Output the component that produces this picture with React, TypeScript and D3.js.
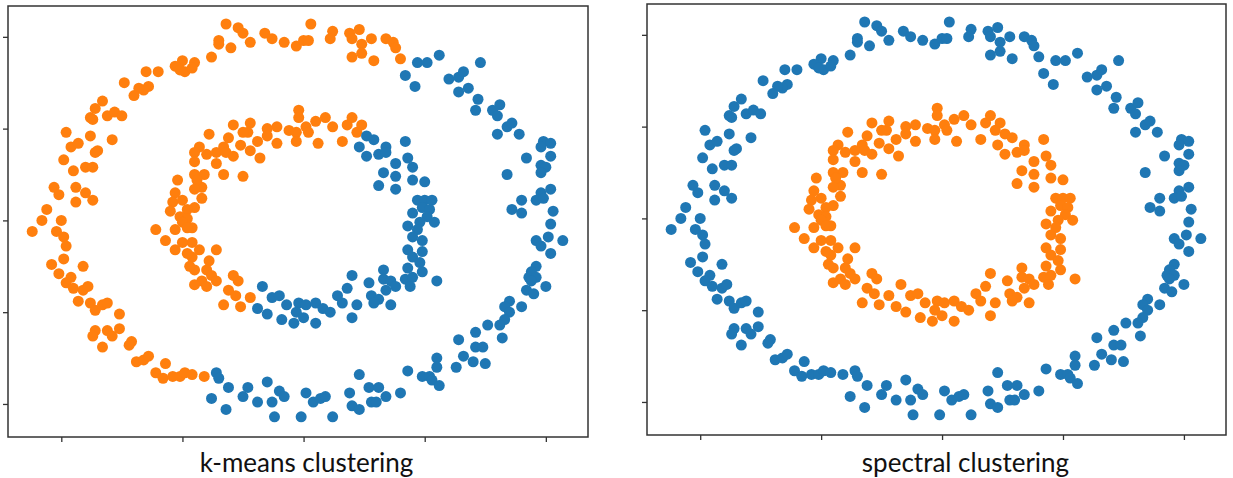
import { useEffect, useRef } from 'react';
import * as d3 from 'd3';

type Pt = [number, number];

// outer ring, points k-means put in the orange cluster
const outerRingA: Pt[] = [
  [-0.50, 0.87], [-0.53, 0.84], [-0.45, 0.86], [-0.49, 0.81], [-0.46, 0.83], [-0.51, 0.82], [-0.60, 0.81], [-0.65, 0.81],
  [-0.74, 0.75], [-0.64, 0.73], [-0.66, 0.71], [-0.68, 0.72], [-0.70, 0.68], [-0.83, 0.65], [-0.86, 0.61], [-0.88, 0.56],
  [-0.87, 0.55], [-0.81, 0.57], [-0.78, 0.59], [-0.75, 0.57], [-0.98, 0.48], [-0.88, 0.46], [-0.79, 0.44], [-0.96, 0.40],
  [-0.93, 0.42], [-0.85, 0.38], [-0.32, 1.07], [-0.27, 1.05], [-0.25, 1.02], [-0.22, 0.97], [-0.35, 0.98], [-0.35, 0.96],
  [-0.30, 0.94], [-0.38, 0.89], [-0.16, 1.02], [-0.13, 0.99], [-0.08, 0.97], [-0.03, 0.95], [0.00, 0.98], [0.02, 0.98],
  [0.03, 1.07], [0.12, 1.03], [0.11, 0.99], [0.19, 1.02], [0.23, 1.04], [0.20, 0.99], [0.28, 0.99], [0.24, 0.96],
  [0.20, 0.89], [0.24, 0.91], [0.29, 0.87], [0.34, 0.99], [0.37, 0.97], [0.38, 0.94], [0.40, 0.88],
  [-0.86, 0.37], [-0.99, 0.33], [-0.95, 0.27], [-0.90, 0.29], [-0.87, 0.29], [-1.03, 0.18], [-1.01, 0.14], [-0.94, 0.18],
  [-0.90, 0.15], [-0.87, 0.11], [-0.94, 0.10], [-1.06, 0.06], [-1.08, 0.00], [-1.00, 0.00], [-1.12, -0.06], [-1.02, -0.06],
  [-0.99, -0.09], [-0.98, -0.14], [-0.99, -0.21], [-1.04, -0.24], [-1.01, -0.29], [-0.91, -0.25], [-0.96, -0.31],
  [-0.98, -0.34], [-0.95, -0.37], [-0.91, -0.38], [-0.89, -0.36], [-0.93, -0.44], [-0.88, -0.45], [-0.86, -0.49],
  [-0.83, -0.46], [-0.81, -0.45], [-0.76, -0.51], [-0.76, -0.59], [-0.86, -0.60], [-0.81, -0.60], [-0.79, -0.63],
  [-0.87, -0.63], [-0.83, -0.69], [-0.71, -0.66], [-0.72, -0.68], [-0.69, -0.77], [-0.66, -0.76], [-0.64, -0.74],
  [-0.61, -0.83], [-0.57, -0.78], [-0.58, -0.86], [-0.54, -0.85], [-0.51, -0.85], [-0.49, -0.83], [-0.46, -0.84], [-0.41, -0.85],
];

// outer ring, k-means blue cluster
const outerRingB: Pt[] = [
  [0.47, 0.86], [0.51, 0.86], [0.56, 0.90], [0.73, 0.86], [0.42, 0.79], [0.46, 0.73], [0.60, 0.77], [0.64, 0.78],
  [0.66, 0.81], [0.64, 0.70], [0.68, 0.72], [0.72, 0.66], [0.71, 0.60], [0.78, 0.60], [0.81, 0.63], [0.80, 0.57],
  [0.80, 0.47], [0.84, 0.51], [0.86, 0.53], [0.89, 0.47], [0.99, 0.43], [1.02, 0.42], [0.98, 0.40], [0.84, 0.25],
  [0.92, 0.34], [1.02, 0.35], [0.98, 0.30], [1.00, 0.29], [0.98, 0.26], [1.02, 0.17], [0.98, 0.15], [0.96, 0.11],
  [0.99, 0.12], [0.90, 0.11], [0.86, 0.06], [0.90, 0.04], [1.03, 0.05], [1.02, -0.02], [1.01, -0.09], [0.96, -0.11],
  [0.98, -0.14], [1.07, -0.11], [1.02, -0.18], [0.96, -0.25], [0.94, -0.28], [0.93, -0.31], [0.96, -0.31], [1.00, -0.36],
  [0.94, -0.33], [0.92, -0.38], [0.95, -0.40], [0.85, -0.44], [0.83, -0.47], [0.90, -0.47], [0.85, -0.50], [0.83, -0.54],
  [0.81, -0.57], [0.76, -0.57], [0.82, -0.64], [0.71, -0.61], [0.64, -0.65], [0.71, -0.69], [0.74, -0.69], [0.66, -0.74],
  [0.70, -0.77], [0.75, -0.78], [0.63, -0.80], [0.55, -0.75], [0.55, -0.80], [0.43, -0.82], [0.49, -0.85], [0.52, -0.85],
  [0.53, -0.87], [0.56, -0.90], [0.40, -0.94],
  [-0.36, -0.83], [-0.35, -0.86], [-0.31, -0.91], [-0.38, -0.97], [-0.32, -1.03], [-0.25, -0.96], [-0.23, -0.91],
  [-0.19, -0.99], [-0.15, -0.88], [-0.13, -0.99], [-0.10, -0.93], [-0.08, -0.96], [-0.12, -1.07], [-0.01, -1.07],
  [0.01, -0.94], [0.04, -0.99], [0.07, -0.97], [0.09, -0.96], [0.12, -1.07], [0.19, -0.94], [0.20, -1.01], [0.23, -1.03],
  [0.23, -0.84], [0.27, -0.91], [0.31, -0.91], [0.28, -0.99], [0.30, -0.99], [0.34, -0.96],
];

// inner ring, k-means orange cluster
const innerRingA: Pt[] = [
  [-0.43, 0.40], [-0.02, 0.60], [-0.02, 0.56], [-0.29, 0.52], [-0.22, 0.53], [-0.23, 0.48], [-0.25, 0.48], [-0.15, 0.50],
  [-0.11, 0.51], [-0.06, 0.49], [-0.03, 0.48], [0.01, 0.51], [0.02, 0.48], [0.05, 0.54], [0.09, 0.56], [0.12, 0.51],
  [0.18, 0.52], [0.20, 0.56], [0.24, 0.52], [0.22, 0.48], [0.16, 0.43], [0.06, 0.42], [-0.11, 0.42], [-0.39, 0.47],
  [-0.31, 0.45], [-0.33, 0.40], [-0.26, 0.41], [-0.19, 0.43], [-0.15, 0.46], [-0.40, 0.36], [-0.36, 0.37], [-0.32, 0.37],
  [-0.36, 0.31], [-0.29, 0.35], [-0.22, 0.38], [-0.18, 0.34], [-0.03, 0.43], [-0.33, 0.25], [-0.25, 0.24], [-0.41, 0.25],
  [-0.42, 0.18], [-0.42, 0.12], [-0.43, -0.16], [-0.36, -0.16], [-0.39, -0.22], [-0.40, -0.27], [-0.38, -0.30],
  [-0.42, -0.33], [-0.36, -0.33], [-0.29, -0.30], [-0.27, -0.33], [-0.31, -0.38], [-0.40, -0.36], [-0.45, 0.37],
  [-0.45, 0.32], [-0.45, 0.25], [-0.44, 0.22], [-0.45, 0.17], [-0.45, 0.07], [-0.46, -0.04], [-0.46, -0.12],
  [-0.46, -0.20], [-0.45, -0.27], [-0.45, -0.35], [-0.52, 0.22], [-0.53, 0.15], [-0.54, 0.10], [-0.50, 0.11],
  [-0.48, 0.06], [-0.55, 0.05], [-0.51, 0.02], [-0.48, 0.01], [-0.50, -0.01], [-0.53, -0.05], [-0.48, -0.04],
  [-0.61, -0.05], [-0.57, -0.11], [-0.53, -0.16], [-0.50, -0.12], [-0.48, -0.18], [-0.47, -0.25], [-0.28, -0.41],
  [-0.22, -0.42], [-0.33, -0.46], [-0.26, -0.47],
];

// inner ring, k-means blue cluster
const innerRingB: Pt[] = [
  [0.26, 0.46], [0.29, 0.44], [0.23, 0.40], [0.34, 0.40], [0.42, 0.43], [0.26, 0.35], [0.31, 0.36], [0.34, 0.37],
  [0.33, 0.26], [0.31, 0.19], [0.20, -0.30], [0.27, -0.34], [0.33, -0.27], [0.33, -0.32], [0.18, -0.37], [-0.17, -0.36],
  [0.38, 0.31], [0.43, 0.34], [0.45, 0.29], [0.38, 0.24], [0.45, 0.22], [0.50, 0.21], [0.38, 0.17], [0.47, 0.11],
  [0.50, 0.11], [0.53, 0.11], [0.49, 0.07], [0.52, 0.06], [0.45, 0.04], [0.51, 0.02], [0.54, -0.01], [0.48, -0.01],
  [0.43, -0.03], [0.47, -0.05], [0.45, -0.09], [0.49, -0.11], [0.43, -0.16], [0.49, -0.17], [0.45, -0.20], [0.48, -0.23],
  [0.49, -0.28], [0.43, -0.26], [0.36, -0.33], [0.42, -0.32], [0.45, -0.31], [0.55, -0.33], [0.38, -0.36], [0.44, -0.36],
  [-0.13, -0.42], [-0.10, -0.41], [-0.19, -0.48], [-0.15, -0.51], [-0.09, -0.54], [-0.07, -0.46], [-0.02, -0.45],
  [0.01, -0.46], [-0.03, -0.50], [-0.04, -0.56], [0.00, -0.53], [0.05, -0.56], [0.05, -0.45], [0.08, -0.48],
  [0.11, -0.50], [0.14, -0.41], [0.16, -0.45], [0.22, -0.46], [0.20, -0.53], [0.28, -0.41], [0.31, -0.43],
  [0.34, -0.38], [0.29, -0.45], [0.36, -0.46],
];

const tickValues = [-1, -0.5, 0, 0.5, 1];
const xDomain = [-1.22, 1.174];
const yDomain = [-1.18, 1.168];

const BLUE = '#1f77b4';
const ORANGE = '#ff7f0e';

// kmeans: 0 = orange, 1 = blue; ring: 0 = outer, 1 = inner
const points = [
  ...outerRingA.map(([x, y]) => ({ x, y, kmeans: 0, ring: 0 })),
  ...outerRingB.map(([x, y]) => ({ x, y, kmeans: 1, ring: 0 })),
  ...innerRingA.map(([x, y]) => ({ x, y, kmeans: 0, ring: 1 })),
  ...innerRingB.map(([x, y]) => ({ x, y, kmeans: 1, ring: 1 })),
];

const kmeansColor = d => (d.kmeans === 0 ? ORANGE : BLUE);
const spectralColor = d => (d.ring === 1 ? ORANGE : BLUE);

const ScatterPanel = ({ left, top, width, height, colorOf }) => {
  const gRef = useRef(null);

  useEffect(() => {
    const g = d3.select(gRef.current);
    g.selectAll('*').remove();

    const xScale = d3.scaleLinear().domain(xDomain).range([0, width]);
    const yScale = d3.scaleLinear().domain(yDomain).range([height, 0]);

    g.append('g')
      .selectAll('circle')
      .data(points)
      .enter()
      .append('circle')
      .attr('cx', d => xScale(d.x))
      .attr('cy', d => yScale(d.y))
      .attr('r', 5.5)
      .attr('fill', colorOf);

    // ticks only, no labels
    g.append('g')
      .attr('transform', `translate(0,${height})`)
      .call(d3.axisBottom(xScale).tickValues(tickValues).tickSize(5).tickFormat(() => ''));
    g.append('g')
      .call(d3.axisLeft(yScale).tickValues(tickValues).tickSize(5).tickFormat(() => ''));

    g.selectAll('.domain').remove();
    g.selectAll('.tick line').attr('stroke', '#333').attr('stroke-width', 1.3);

    g.append('rect')
      .attr('width', width)
      .attr('height', height)
      .attr('fill', 'none')
      .attr('stroke', '#333')
      .attr('stroke-width', 1.5);
  }, [width, height, colorOf]);

  return <g ref={gRef} transform={`translate(${left},${top})`} />;
};

const App = () => (
  <div style={{ position: 'absolute', left: 0, top: 0 }}>
    <svg width={1233} height={478} style={{ display: 'block', background: '#fff' }}>
      <ScatterPanel left={8} top={6} width={580} height={431} colorOf={kmeansColor} />
      <ScatterPanel left={647} top={4} width={579} height={431} colorOf={spectralColor} />
      <g fontFamily="Lato, 'Open Sans', sans-serif" fontSize={26} fill="#111" textAnchor="middle">
        <text x={306.5} y={472}>k-means clustering</text>
        <text x={965.5} y={472}>spectral clustering</text>
      </g>
    </svg>
  </div>
);

export default App;
